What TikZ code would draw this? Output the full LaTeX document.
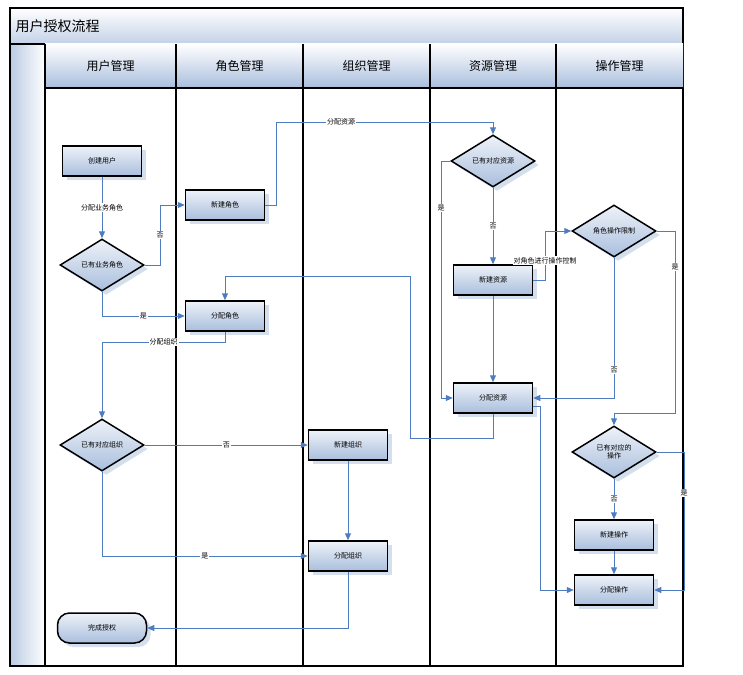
\documentclass[tikz,border=0pt]{standalone}
\usepackage{fontspec}
\setmainfont{Noto Sans CJK SC}
\usetikzlibrary{shapes.geometric,shadows,arrows.meta}
\definecolor{flow}{HTML}{4F7CC0}
\definecolor{paleblue}{HTML}{A9BEDD}
\begin{document}
\begin{tikzpicture}[x=1pt, y=-1pt, font=\fontsize{7}{8}\selectfont,
  box/.style = {draw, line width=1.5pt, minimum width=79pt, minimum height=30pt, top color=white!80!paleblue, bottom color=paleblue, drop shadow={shadow xshift=4pt, shadow yshift=-4pt, fill=paleblue!50, opacity=1}},
  dec/.style = {box, diamond, aspect=1.6, minimum width=84pt, minimum height=52pt, inner sep=0pt},
  term/.style = {box, rounded corners=12pt, minimum width=89pt},
  flowline/.style = {draw=flow, line width=1pt},
  arr/.style = {flowline, -{Triangle[width=6pt,length=7pt]}},
  lbl/.style = {fill=white, inner sep=1pt}]
\useasboundingbox (0,0) rectangle (743,674);
% frame, title and lanes
\shade[top color=white, bottom color=paleblue!70] (10,8) rectangle (683,44);
\shade[left color=paleblue!80, right color=white] (10,44) rectangle (45,666);
\draw[line width=1.5pt] (10,8) rectangle (683,666) (10,44) -- (683,44);
\node[anchor=west, font=\fontsize{14}{16}\selectfont] (title) at (12,26) {用户授权流程};
\foreach \xa/\xb/\name in {45/176/用户管理, 176/303/角色管理, 303/430/组织管理, 430/556/资源管理, 556/683/操作管理} {
  \shade[top color=white, bottom color=paleblue] (\xa,44) rectangle (\xb,88);
  \node[font=\fontsize{12}{14}\selectfont] at ({(\xa+\xb)/2},66) {\name};
  \draw[line width=1.5pt] (\xa,44) -- (\xa,666);
}
\draw[line width=1.5pt] (45,88) -- (683,88);
% nodes
\node[box] (cu) at (102,161) {创建用户};
\node[dec] (yr) at (102,265) {已有业务角色};
\node[box] (xr) at (225,205) {新建角色};
\node[box] (fr) at (225,316) {分配角色};
\node[dec] (yo) at (102,445) {已有对应组织};
\node[box] (xo) at (348,445) {新建组织};
\node[box] (fo) at (348,556) {分配组织};
\node[term] (done) at (102,628) {完成授权};
\node[dec] (ys) at (493,161) {已有对应资源};
\node[box] (xs) at (493,280) {新建资源};
\node[box] (fs) at (493,398) {分配资源};
\node[dec] (lim) at (614,231) {角色操作限制};
\node[dec, align=center] (yop) at (614,452) {已有对应的\\操作};
\node[box] (xop) at (614,535) {新建操作};
\node[box] (fop) at (614,590) {分配操作};
% connectors
\draw[arr] (cu) -- node[lbl, pos=0.5] {分配业务角色} (yr);
\draw[arr] (yr.east) -| (160,205) node[lbl, pos=0.75] {否} -- (xr.west);
\draw[arr] (yr.south) |- node[lbl, pos=0.75] {是} (fr.west);
\draw[arr] (xr.east) -| (276,122) -- node[lbl, pos=0.3] {分配资源} (493,122) -- (ys.north);
\draw[arr] (ys) -- node[lbl] {否} (xs);
\draw[arr] (ys.west) -| (441,398) node[lbl, pos=0.6] {是} -- (fs.west);
\draw[arr] (xs) -- (fs);
\draw[arr] (xs.east) -| (545,231) node[lbl, pos=0.7] {对角色进行操作控制} -- (lim.west);
\draw[arr] (lim.south) |- node[lbl, pos=0.4] {否} (fs.east);
\draw[arr] (lim.east) -| (675,413) node[lbl, pos=0.6] {是} -| (yop.north);
\draw[arr] (fs.south) |- (410,438) |- (225,276) -- (fr.north);
\draw[arr] (fr.south) |- node[lbl, pos=0.75] {分配组织} (102,342) -- (yo.north);
\draw[arr] (yo) -- node[lbl] {否} (xo);
\draw[arr] (yo.south) |- node[lbl, pos=0.75] {是} (fo.west);
\draw[arr] (xo) -- (fo);
\draw[arr] (fo.south) |- (done.east);
\draw[arr] (yop) -- node[lbl] {否} (xop);
\draw[arr] (xop) -- (fop);
\draw[arr] (yop.east) -| (684,590) node[lbl, pos=0.65] {是} -- (fop.east);
\draw[arr] ([yshift=-8pt]fs.east) -| (540,590) -- (fop.west);
\end{tikzpicture}
\end{document}
